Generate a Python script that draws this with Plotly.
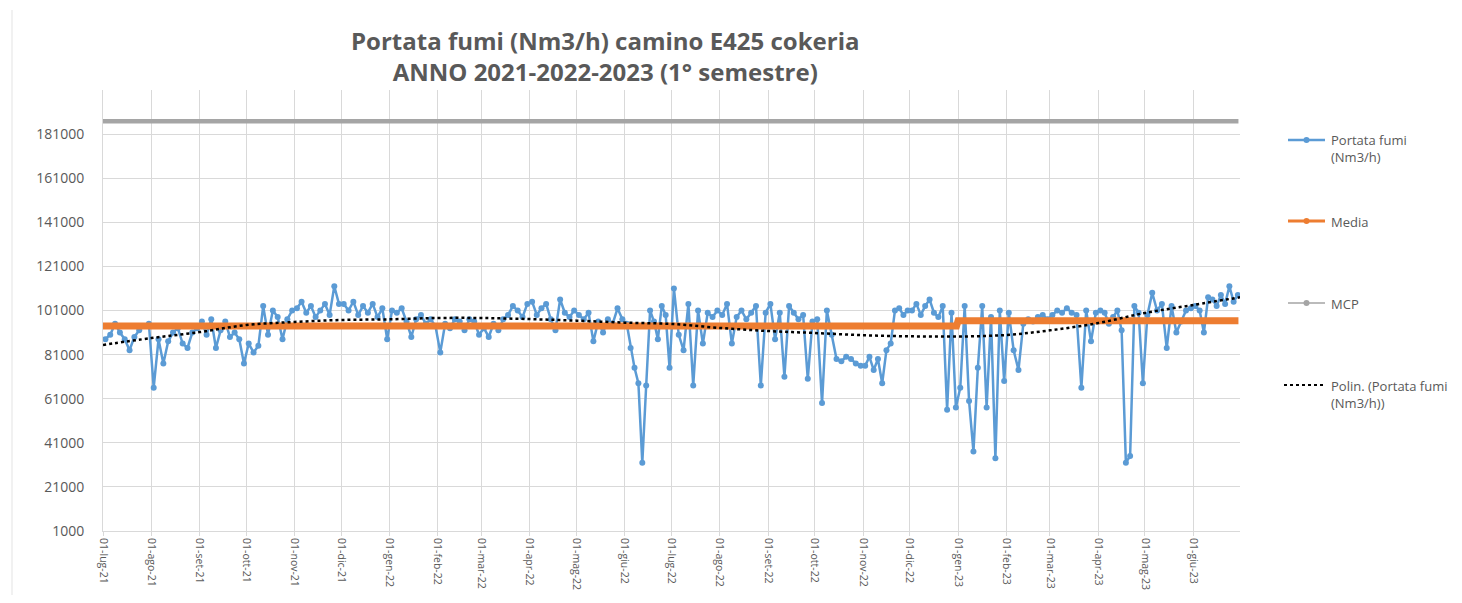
import pandas as pd
import plotly.graph_objects as go

# ---------------- data ----------------
month_labels = ["01-lug-21", "01-ago-21", "01-set-21", "01-ott-21", "01-nov-21", "01-dic-21",
                "01-gen-22", "01-feb-22", "01-mar-22", "01-apr-22", "01-mag-22", "01-giu-22",
                "01-lug-22", "01-ago-22", "01-set-22", "01-ott-22", "01-nov-22", "01-dic-22",
                "01-gen-23", "01-feb-23", "01-mar-23", "01-apr-23", "01-mag-23", "01-giu-23"]
month_starts = ["2021-07-01", "2021-08-01", "2021-09-01", "2021-10-01", "2021-11-01", "2021-12-01",
                "2022-01-01", "2022-02-01", "2022-03-01", "2022-04-01", "2022-05-01", "2022-06-01",
                "2022-07-01", "2022-08-01", "2022-09-01", "2022-10-01", "2022-11-01", "2022-12-01",
                "2023-01-01", "2023-02-01", "2023-03-01", "2023-04-01", "2023-05-01", "2023-06-01",
                "2023-07-01"]

lug21 = [88000, 90000, 95000, 91000, 88000, 83000, 89000, 92000, 94000, 95000]
ago21 = [66000, 88000, 77000, 87000, 91000, 93000, 86000, 84000, 91000, 93000]
set21 = [96000, 90000, 97000, 84000, 92000, 96000, 89000, 91000, 88000, 77000]
ott21 = [86000, 82000, 85000, 103000, 90000, 101000, 98000, 88000, 97000, 101000]
nov21 = [102000, 105000, 100000, 103000, 98000, 101000, 104000, 99000, 112000, 104000]
dic21 = [104000, 101000, 105000, 99000, 103000, 100000, 104000, 98000, 102000, 88000]
gen22 = [101000, 100000, 102000, 96000, 89000, 97000, 99000, 95000, 97000, 94000]
feb22 = [82000, 95000, 93000, 97000, 96000, 92000, 97000, 96000, 90000]
mar22 = [93000, 89000, 95000, 92000, 97000, 99000, 103000, 101000, 98000, 104000]
apr22 = [105000, 99000, 102000, 104000, 97000, 92000, 106000, 100000, 98000, 101000]
mag22 = [99000, 97000, 100000, 87000, 96000, 91000, 97000, 95000, 102000, 97000]
giu22 = [95000, 84000, 75000, 68000, 32000, 67000, 101000, 96000, 88000, 103000, 99000, 75000]
lug22 = [111000, 90000, 83000, 104000, 67000, 101000, 86000, 100000, 98000, 101000]
ago22 = [99000, 104000, 86000, 98000, 101000, 97000, 100000, 103000, 67000, 100000]
set22 = [104000, 88000, 100000, 71000, 103000, 100000, 97000, 99000, 70000, 96000]
ott22 = [97000, 59000, 101000, 90000, 79000, 78000, 80000, 79000, 77000, 76000]
nov22 = [76000, 80000, 74000, 79000, 68000, 83000, 86000, 101000, 102000, 99000, 101000]
dic22 = [101000, 104000, 99000, 103000, 106000, 100000, 98000, 103000, 56000, 100000, 57000]
gen23 = [66000, 103000, 60000, 37000, 75000, 103000, 57000, 98000, 34000, 101000, 69000]
feb23 = [100000, 83000, 74000, 95000, 97000, 96000, 98000, 99000, 97000]
mar23 = [99000, 101000, 100000, 102000, 100000, 99000, 66000, 101000, 87000, 100000]
apr23 = [101000, 100000, 95000, 98000, 101000, 92000, 32000, 35000, 103000, 100000, 68000]
mag23 = [99000, 109000, 101000, 104000, 84000, 103000, 91000, 96000, 101000, 102000]
giu23 = [103000, 101000, 91000, 107000, 106000, 103000, 108000, 104000, 112000, 105000, 108000]

flow_by_month = [lug21, ago21, set21, ott21, nov21, dic21, gen22, feb22, mar22, apr22, mag22, giu22,
                 lug22, ago22, set22, ott22, nov22, dic22, gen23, feb23, mar23, apr23, mag23, giu23]

# polynomial trendline as read at each month start (plus end)
trend_values = [85400, 88500, 91200, 94400, 95800, 96700, 97000, 97600, 97600, 97100, 96400, 95500,
                94900, 93100, 91700, 90800, 89800, 89300, 89200, 89900, 92000, 95300, 99900, 103500,
                107000]

media_dates = ["2021-07-01", "2022-12-31", "2023-01-01", "2023-06-30"]
media_values = [94000, 94000, 96300, 96300]

mcp_dates = ["2021-07-01", "2023-06-30"]
mcp_values = [186800, 186800]

y_ticks = [1000, 21000, 41000, 61000, 81000, 101000, 121000, 141000, 161000, 181000]

# ---------------- build x positions ----------------
flow_x, flow_y = [], []
for i, vals in enumerate(flow_by_month):
    s = pd.Timestamp(month_starts[i])
    e = pd.Timestamp(month_starts[i + 1])
    span = (e - s) / len(vals)
    for j, v in enumerate(vals):
        flow_x.append(s + span * (j + 0.5))
        flow_y.append(v)

trend_x = [pd.Timestamp(d) for d in month_starts]

BLUE = "#5B9BD5"
ORANGE = "#ED7D31"
GRAY = "#A5A5A5"
TXT = "#595959"
GRID = "#D9D9D9"
FONT = "Open Sans"

fig = go.Figure()
fig.add_trace(go.Scatter(x=mcp_dates, y=mcp_values, mode="lines",
                         line=dict(color=GRAY, width=4.5), showlegend=False))
fig.add_trace(go.Scatter(x=flow_x, y=flow_y, mode="lines+markers",
                         line=dict(color=BLUE, width=2.5),
                         marker=dict(color=BLUE, size=6), showlegend=False))
fig.add_trace(go.Scatter(x=media_dates, y=media_values, mode="lines",
                         line=dict(color=ORANGE, width=7), showlegend=False))
fig.add_trace(go.Scatter(x=trend_x, y=trend_values, mode="lines",
                         line=dict(color="black", width=2.5, dash="dot", shape="spline"),
                         showlegend=False))

# page body has an 8px margin; positions below are given in screen pixels
OFF = 8
W, H = 1462 - 2 * OFF, 603 - 2 * OFF
L, R, T, B = 103 - OFF, 1240 - OFF, 90 - OFF, 531 - OFF


def px(x):
    return (x - OFF - L) / (R - L)


def py(y):
    return (B - (y - OFF)) / (B - T)


shapes = []
annotations = []

# legend (manual)
legend_items = [
    (140, BLUE, 2.5, "solid", "Portata fumi<br>(Nm3/h)", 1288),
    (221, ORANGE, 3, "solid", "Media", 1288),
    (303, GRAY, 1.5, "solid", "MCP", 1288),
    (385, "black", 2, "dot", "Polin. (Portata fumi<br>(Nm3/h))", 1284),
]
for yy, col, w, dash, label, x0 in legend_items:
    shapes.append(dict(type="line", xref="paper", yref="paper", x0=px(x0), x1=px(1325),
                       y0=py(yy), y1=py(yy), line=dict(color=col, width=w, dash=dash)))
    if dash == "solid":
        shapes.append(dict(type="circle", xref="paper", yref="paper",
                           x0=px(1303.5), x1=px(1309.5), y0=py(yy - 3), y1=py(yy + 3),
                           fillcolor=col, line=dict(color=col, width=0)))
    annotations.append(dict(x=px(1329), y=py(yy - 10.5), xref="paper", yref="paper",
                            xanchor="left", yanchor="top", align="left", showarrow=False,
                            text=label, font=dict(size=13, color=TXT, family=FONT)))

# title
annotations.append(dict(x=px(605), y=py(56), xref="paper", yref="paper",
                        xanchor="center", yanchor="middle", showarrow=False,
                        text="<b>Portata fumi (Nm3/h) camino E425 cokeria<br>ANNO 2021-2022-2023 (1° semestre)</b>",
                        font=dict(size=24, color=TXT, family=FONT)))

# faint chart frame on the left
shapes.append(dict(type="line", xref="paper", yref="paper", x0=px(12), x1=px(12),
                   y0=py(10), y1=py(600), line=dict(color="#E3E3E3", width=1)))

fig.update_layout(
    width=W, height=H,
    margin=dict(l=L, r=W - R, t=T, b=H - B, autoexpand=False),
    paper_bgcolor="white", plot_bgcolor="white",
    font=dict(family=FONT, color=TXT),
    shapes=shapes, annotations=annotations,
    showlegend=False,
)
fig.update_xaxes(
    type="date", range=["2021-07-01", "2023-07-01"], automargin=False,
    tickvals=month_starts[:-1], ticktext=month_labels, tickangle=90,
    tickfont=dict(size=10.5, color=TXT),
    showgrid=True, gridcolor=GRID, gridwidth=1,
    showline=True, linecolor=GRID, linewidth=1,
    ticks="outside", ticklen=4, tickcolor=GRID, zeroline=False,
)
fig.update_yaxes(
    range=[1000, 201000], tickvals=y_ticks, ticktext=[str(v) for v in y_ticks],
    automargin=False,
    tickfont=dict(size=14, color=TXT), ticklabelstandoff=15,
    showgrid=True, gridcolor=GRID, gridwidth=1,
    showline=True, linecolor=GRID, linewidth=1, zeroline=False,
)

fig.write_html("out.html")
